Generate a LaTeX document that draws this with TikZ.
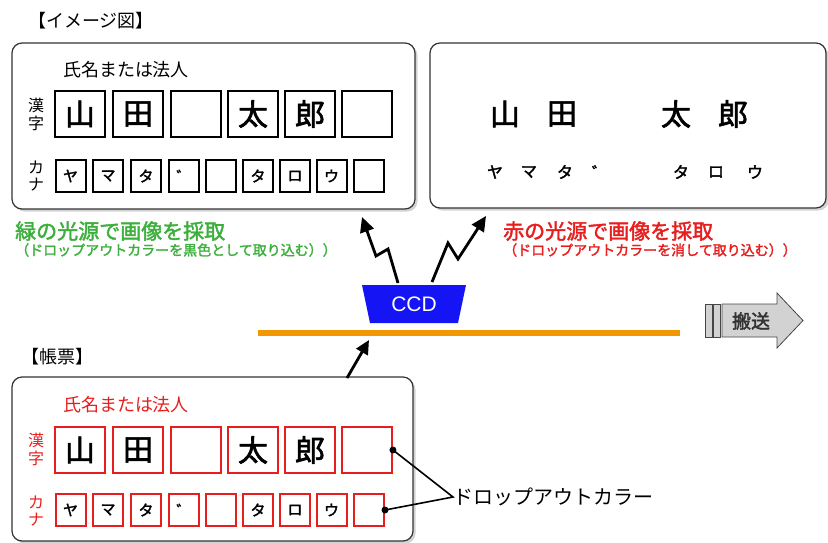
\documentclass[tikz,border=0pt]{standalone}
\usepackage{fontspec}
\setmainfont{Noto Sans CJK JP}[AutoFakeBold=2]
\newfontfamily\latinsans{Liberation Sans}
\usetikzlibrary{arrows.meta,shadows}
\definecolor{ggreen}{RGB}{60,175,60}
\definecolor{rred}{RGB}{232,30,30}
\definecolor{ccdblue}{RGB}{20,20,245}
\definecolor{beltorange}{RGB}{243,152,0}
\newcommand{\dak}{\raisebox{-5pt}{゛}}
\begin{document}
\begin{tikzpicture}[x=1pt,y=-1pt,
  panel/.style={draw=black!80, line width=1.2pt, rounded corners=10pt, fill=white, inner sep=0pt,
    drop shadow={opacity=0.35,shadow xshift=2.5pt,shadow yshift=-2.5pt}},
  kbox/.style={draw, line width=2.4pt, minimum width=49.5pt, minimum height=46pt, inner sep=0pt,
    font=\fontsize{30}{30}\selectfont\bfseries},
  kkbox/.style={draw, line width=2pt, minimum width=30pt, minimum height=32pt, inner sep=0pt,
    font=\fontsize{15}{15}\selectfont\bfseries},
  bigch/.style={inner sep=0pt, font=\fontsize{30}{30}\selectfont\bfseries},
  smallch/.style={inner sep=0pt, font=\fontsize{16}{16}\selectfont\bfseries},
  vlabel/.style={inner sep=0pt, font=\fontsize{16}{16}\selectfont},
  title/.style={inner sep=0pt, font=\fontsize{18}{18}\selectfont},
  field/.style={inner sep=0pt, font=\fontsize{18}{18}\selectfont},
  head/.style={inner sep=0pt, anchor=west, font=\fontsize{21}{21}\selectfont\bfseries},
  sub/.style={inner sep=0pt, anchor=west, font=\fontsize{14}{14}\selectfont\bfseries},
  bolt/.style={line width=2.8pt, -{Triangle[length=15pt,width=14pt]}},
]
\useasboundingbox (0,0) rectangle (828,542);

% titles
\node[title] (t1) at (91,21) {【イメージ図】};
\node[title] (t2) at (57,357) {【帳票】};

% panels
\node[panel, minimum width=403pt, minimum height=166pt] (imgL) at (213.5,126) {};
\node[panel, minimum width=396pt, minimum height=165pt] (imgR) at (628,125.5) {};
\node[panel, minimum width=401pt, minimum height=164pt] (form) at (212.5,459) {};

% ---------- top-left image panel
\node[field] (f1) at (126,70) {氏名または法人};
\node[vlabel] (v1a) at (36,105) {漢};
\node[vlabel] (v1b) at (36,123) {字};
\node[vlabel] (v2a) at (36,167) {カ};
\node[vlabel] (v2b) at (36,185) {ナ};
\foreach \x/\c [count=\i] in {80/山,138/田,196/{},253/太,310/郎,367/{}}
  \node[kbox] (ka\i) at (\x,114) {\c};
\foreach \x/\c [count=\i] in {70.5/ヤ,108/マ,146/タ,184/\dak,221/{},258/タ,295/ロ,331.5/ウ,369/{}}
  \node[kkbox] (kn\i) at (\x,176) {\c};

% ---------- top-right image panel
\foreach \x/\c [count=\i] in {505/山,562/田,676/太,733/郎}
  \node[bigch] (rk\i) at (\x,114) {\c};
\foreach \x/\c [count=\i] in {495/ヤ,529/マ,565/タ,600/\dak,681/タ,716/ロ,755/ウ}
  \node[smallch] (rn\i) at (\x,172) {\c};

% ---------- captions
\node[head, text=ggreen] (g1) at (15,231) {緑の光源で画像を採取};
\node[sub, text=ggreen] (g2) at (15,250) {（ドロップアウトカラーを黒色として取り込む））};
\node[head, text=rred] (r1) at (503,231) {赤の光源で画像を採取};
\node[sub, text=rred] (r2) at (503,250) {（ドロップアウトカラーを消して取り込む））};

% ---------- CCD
\fill[ccdblue] (362,285) -- (466,285) -- (458,323) -- (370,323) -- cycle;
\node[inner sep=0pt, text=white, font=\latinsans\fontsize{21}{21}\selectfont] (ccd) at (414,304) {CCD};
\coordinate (bl0) at (398,283);
\coordinate (bl1) at (388,249);
\coordinate (bl2) at (376,256);
\coordinate (bltip) at (362,217);
\draw[bolt] (bl0) -- (bl1) -- (bl2) -- (bltip);
\coordinate (br0) at (432,282);
\coordinate (br1) at (448,243);
\coordinate (br2) at (458,259);
\coordinate (brtip) at (486,216);
\draw[bolt] (br0) -- (br1) -- (br2) -- (brtip);

% ---------- belt
\coordinate (beltL) at (258,333);
\coordinate (beltR) at (680,333);
\draw[beltorange, line width=6.5pt] (beltL) -- (beltR);
\coordinate (upA) at (347,378);
\coordinate (upB) at (369,340);
\draw[line width=2.8pt, -{Triangle[length=14pt,width=13pt]}] (upA) -- (upB);

% ---------- carry arrow
\draw[fill=gray!35, draw=gray!55!black, line width=0.8pt] (705,304) rectangle (712,337);
\draw[fill=gray!35, draw=gray!55!black, line width=0.8pt] (713,304) rectangle (720,337);
\draw[fill=gray!35, draw=gray!55!black, line width=0.8pt]
  (722,304) -- (777,304) -- (777,293) -- (803,320.5) -- (777,348) -- (777,337) -- (722,337) -- cycle;
\node[inner sep=0pt, font=\fontsize{19}{19}\selectfont\bfseries, text=black!80] (hanso) at (751,321) {搬送};

% ---------- form panel
\node[field, text=rred] (f2) at (126,405) {氏名または法人};
\node[vlabel, text=rred] (v3a) at (36,440) {漢};
\node[vlabel, text=rred] (v3b) at (36,458) {字};
\node[vlabel, text=rred] (v4a) at (36,502) {カ};
\node[vlabel, text=rred] (v4b) at (36,520) {ナ};
\foreach \x/\c [count=\i] in {80/山,138/田,196/{},253/太,310/郎,367/{}}
  \node[kbox, draw=rred] (fa\i) at (\x,450) {\c};
\foreach \x/\c [count=\i] in {70.5/ヤ,108/マ,146/タ,184/\dak,221/{},258/タ,295/ロ,331.5/ウ,369/{}}
  \node[kkbox, draw=rred] (fn\i) at (\x,510) {\c};

% ---------- dropout color label
\node[inner sep=0pt, anchor=west, font=\fontsize{20}{20}\selectfont] (drop) at (453,497) {ドロップアウトカラー};
\draw[line width=1.6pt] (fa6.east) -- (drop.west) -- (fn9.east);
\fill (fa6.east) circle (3.5pt);
\fill (fn9.east) circle (3.5pt);
\end{tikzpicture}
\end{document}
